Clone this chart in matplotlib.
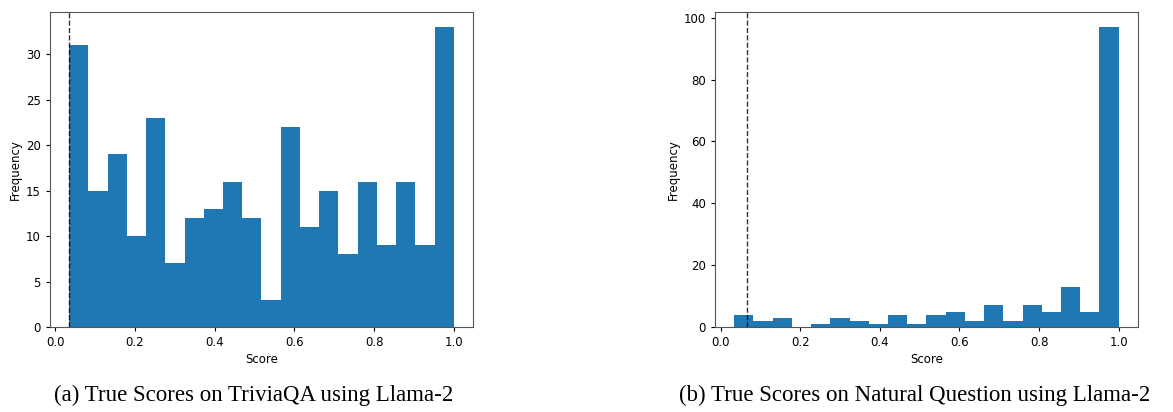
""" Histograms of the true scores for TriviaQA and Natural Question using Llama-2 """

import numpy as np
import matplotlib.pyplot as plt

# Bin counts (20 equal bins between the min score and 1.0)
trivia_counts = [31, 15, 19, 10, 23, 7, 12, 13, 16, 12, 3, 22, 11, 15, 8, 16, 9, 16, 9, 33]
trivia_min = 0.035
trivia_line = 0.035

nq_counts = [4, 2, 3, 0, 1, 3, 2, 1, 4, 1, 4, 5, 2, 7, 2, 7, 5, 13, 5, 97]
nq_min = 0.034
nq_line = 0.067

captions = ["(a) True Scores on TriviaQA using Llama-2",
            "(b) True Scores on Natural Question using Llama-2"]

fig = plt.figure(figsize=(11.73, 4.12), dpi=100)
ax1 = fig.add_axes([0.0426, 0.2063, 0.3606, 0.7646])
ax2 = fig.add_axes([0.6095, 0.2063, 0.3606, 0.7646])


def plot_hist(ax, counts, lo, line_x):
    edges = np.linspace(lo, 1.0, len(counts) + 1)
    ax.hist(edges[:-1], bins=edges, weights=counts, color="#1f77b4")
    ax.axvline(line_x, color="k", linestyle="--", linewidth=1, alpha=0.8)
    ax.set_xlabel("Score", fontsize=8.5, labelpad=3)
    ax.set_ylabel("Frequency", fontsize=8.5, labelpad=3)
    ax.tick_params(labelsize=8.5, length=3, width=0.8)
    for s in ax.spines.values():
        s.set_color("#555555")


plot_hist(ax1, trivia_counts, trivia_min, trivia_line)
plot_hist(ax2, nq_counts, nq_min, nq_line)

# Subfigure captions in a serif font
fig.text(0.2165, 0.026, captions[0], ha="center", va="baseline",
         fontsize=16.5, family="Liberation Serif")
fig.text(0.780, 0.026, captions[1], ha="center", va="baseline",
         fontsize=16.5, family="Liberation Serif")

fig.savefig("out.png", dpi=100)
